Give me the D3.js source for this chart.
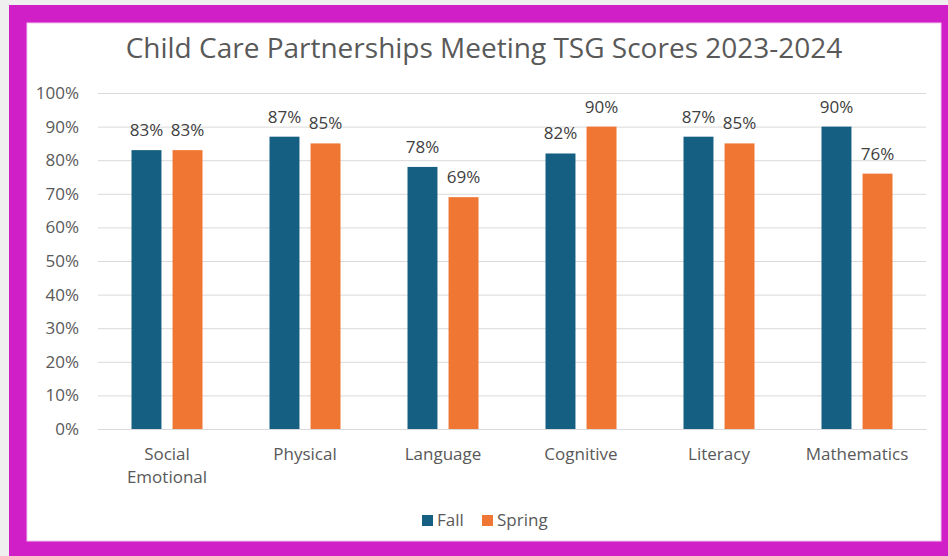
<!DOCTYPE html>
<html>
<head>
<meta charset="utf-8">
<script src="https://cdn.jsdelivr.net/npm/d3@7"></script>
<style>
  body { margin: 0; background: #efefef; }
  svg { display: block; font-family: "Open Sans", sans-serif; }
</style>
</head>
<body>
<svg width="948" height="556"></svg>
<script>
// chart data
const categories = ["Social Emotional", "Physical", "Language", "Cognitive", "Literacy", "Mathematics"];
const series = ["Fall", "Spring"];
const fallValues = [83, 87, 78, 82, 87, 90];
const springValues = [83, 85, 69, 90, 85, 76];
const yTicks = [0, 10, 20, 30, 40, 50, 60, 70, 80, 90, 100];
const colors = ["#156082", "#F07733"];
const font = "Open Sans, sans-serif";

const svg = d3.select("svg");

// magenta frame + white card
svg.append("rect").attr("x", 9).attr("y", 5).attr("width", 950).attr("height", 560).attr("fill", "#d11fc8");
svg.append("rect").attr("x", 27).attr("y", 23).attr("width", 914).attr("height", 518).attr("fill", "#fff")
    .attr("stroke", "#f3c6f0").attr("stroke-width", 1);

const margin = { left: 98, right: 926, top: 93, bottom: 429 };

const x = d3.scaleBand().domain(categories).range([margin.left, margin.right]);
const x1 = d3.scaleBand().domain(series).range([x.bandwidth() / 2 - 35.5, x.bandwidth() / 2 + 35.5]).paddingInner(0.27);
const y = d3.scaleLinear().domain([0, 100]).range([margin.bottom, margin.top]);

// title
svg.append("text")
    .attr("x", 484).attr("y", 58)
    .attr("text-anchor", "middle")
    .attr("fill", "#595959")
    .attr("font-size", 28)
    .text("Child Care Partnerships Meeting TSG Scores 2023-2024");

// gridlines + y axis labels
const yAxis = svg.append("g")
    .attr("transform", `translate(${margin.left},0)`)
    .call(d3.axisLeft(y).tickValues(yTicks).tickFormat(d => d + "%").tickSize(-(margin.right - margin.left)).tickPadding(19));
yAxis.attr("font-family", font).attr("font-size", 17);
yAxis.select(".domain").remove();
yAxis.selectAll("line").attr("stroke", "#d9d9d9");
yAxis.selectAll("text").attr("fill", "#595959");

const rows = categories.map((c, i) => ({ cat: c, vals: [fallValues[i], springValues[i]] }));

const groups = svg.selectAll("g.cat")
    .data(rows)
    .enter()
    .append("g")
    .attr("class", "cat")
    .attr("transform", d => `translate(${x(d.cat)},0)`);

groups.selectAll("rect")
    .data(d => d.vals.map((v, j) => ({ s: series[j], v: v, j: j })))
    .enter()
    .append("rect")
    .attr("x", d => x1(d.s))
    .attr("y", d => y(d.v))
    .attr("width", x1.bandwidth())
    .attr("height", d => y(0) - y(d.v))
    .attr("fill", d => colors[d.j]);

groups.selectAll("text.val")
    .data(d => d.vals.map((v, j) => ({ s: series[j], v: v })))
    .enter()
    .append("text")
    .attr("class", "val")
    .attr("x", d => x1(d.s) + x1.bandwidth() / 2)
    .attr("y", d => y(d.v) - 14)
    .attr("text-anchor", "middle")
    .attr("fill", "#404040")
    .attr("font-size", 17)
    .text(d => d.v + "%");

// x axis labels
const xAxis = svg.append("g")
    .attr("transform", `translate(0,${margin.bottom})`)
    .call(d3.axisBottom(x).tickSize(0).tickFormat(""));
xAxis.attr("font-family", font);
xAxis.select(".domain").attr("stroke", "#d9d9d9");
xAxis.selectAll(".tick").each(function (d) {
    const t = d3.select(this).append("text")
        .attr("fill", "#595959")
        .attr("font-size", 17)
        .attr("text-anchor", "middle");
    d.split(" ").forEach((w, i) => {
        t.append("tspan").attr("x", 0).attr("y", 31 + i * 23).text(w);
    });
});

// legend
const legend = svg.append("g").attr("transform", "translate(422,526)");
const items = [{ s: "Fall", dx: 0 }, { s: "Spring", dx: 60 }];
items.forEach((it, i) => {
    legend.append("rect").attr("x", it.dx).attr("y", -11).attr("width", 11).attr("height", 11).attr("fill", colors[i]);
    legend.append("text").attr("x", it.dx + 15).attr("y", 0)
        .attr("fill", "#595959").attr("font-size", 17).text(it.s);
});
</script>
</body>
</html>
